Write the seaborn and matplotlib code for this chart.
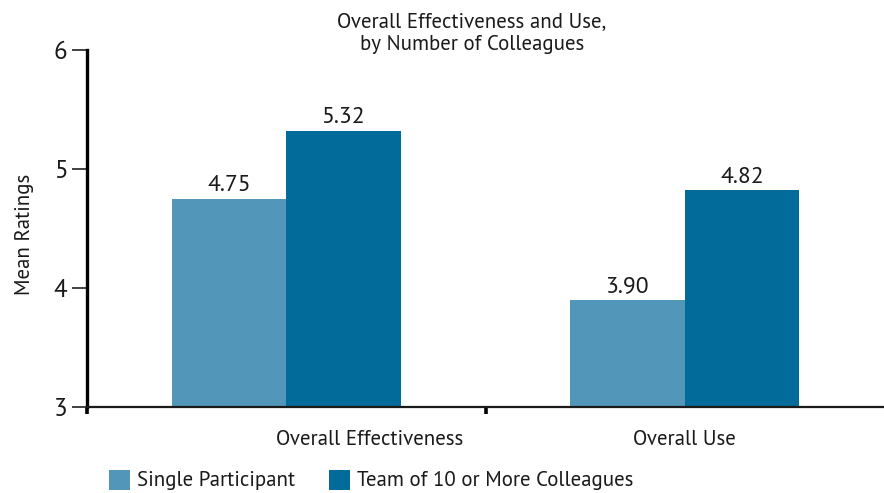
import matplotlib
matplotlib.use("Agg")
import matplotlib.pyplot as plt
from matplotlib import font_manager
import seaborn as sns
import pandas as pd

categories = ["Overall Effectiveness", "Overall Use"]
groups = ["Single Participant", "Team of 10 or More Colleagues"]
single_values = [4.75, 3.90]
team_values = [5.32, 4.82]
y_ticks = [3, 4, 5, 6]

light_blue = "#5297BA"
dark_blue = "#036B9A"

sns.set_theme(style="white")
# families that ship a regular (400) upright face
regular = {f.name for f in font_manager.fontManager.ttflist
           if f.style == "normal" and str(f.weight) in ("400", "normal", "regular")}
base_font = next((n for n in ["Source Sans Pro", "Source Sans 3", "PT Sans",
                              "Liberation Sans"] if n in regular), "DejaVu Sans")
plt.rcParams["font.family"] = [base_font, "DejaVu Sans"]
plt.rcParams["font.weight"] = "normal"

TXT = 15

df = pd.DataFrame({
    "category": categories * 2,
    "group": [groups[0]] * len(categories) + [groups[1]] * len(categories),
    "value": single_values + team_values,
})

fig = plt.figure(figsize=(8.84, 4.93), dpi=100)
ax = fig.add_axes([87 / 884, 86 / 493, (884 - 87) / 884, (407 - 50) / 493])

sns.barplot(data=df, x="category", y="value", hue="group", order=categories,
            hue_order=groups, palette=[light_blue, dark_blue], width=0.575,
            saturation=1, linewidth=0, ax=ax, legend=False, errorbar=None)

ax.set_ylim(3, 6)
ax.set_xlim(-0.5, 1.5)
ax.set_yticks(y_ticks)
ax.set_yticklabels([str(t) for t in y_ticks], fontsize=18, color="#1a1a1a")
ax.set_xticks([-0.5, 0.5])
ax.set_xticklabels([])
ax.set_xlabel("")
ax.set_ylabel("")

for side in ["top", "right"]:
    ax.spines[side].set_visible(False)
ax.spines["left"].set_linewidth(2.4)
ax.spines["left"].set_color("black")
ax.spines["bottom"].set_linewidth(1.6)
ax.spines["bottom"].set_color("#1a1a1a")
ax.tick_params(axis="y", direction="out", length=11, width=1.3, color="#333333", pad=3, left=True)
ax.tick_params(axis="x", direction="out", length=5, width=2.6, color="black", bottom=True)

# value labels above each bar
for container in ax.containers:
    ax.bar_label(container, fmt="%.2f", padding=2, fontsize=17, color="#1a1a1a")

# category labels
label_offsets = [0.21, 0.0]
for i, (cat, off) in enumerate(zip(categories, label_offsets)):
    ax.text(i + off, -0.09, cat, transform=ax.get_xaxis_transform(),
            ha="center", va="center", fontsize=TXT, color="#1a1a1a")

fig.text(472 / 884, 1 - 33 / 493, "Overall Effectiveness and Use,\nby Number of Colleagues",
         ha="center", va="center", fontsize=TXT, color="#1a1a1a", linespacing=1.2)
fig.text(25 / 884, 1 - 234 / 493, "Mean Ratings", rotation=90, ha="center", va="center",
         fontsize=TXT, color="#1a1a1a")

# legend row beneath the axes
legend_items = [(109, groups[0], light_blue), (329, groups[1], dark_blue)]
for x0, label, color in legend_items:
    fig.patches.append(plt.Rectangle((x0 / 884, 1 - 490 / 493), 21 / 884, 20 / 493,
                                     transform=fig.transFigure, facecolor=color,
                                     edgecolor="none", figure=fig))
    fig.text((x0 + 28) / 884, 1 - 480 / 493, label, ha="left", va="center",
             fontsize=TXT, color="#1a1a1a")

fig.savefig("out.png", dpi=100)
